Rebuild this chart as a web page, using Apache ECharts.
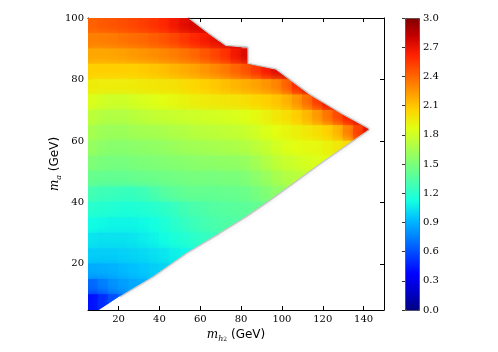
<!DOCTYPE html>
<html>
<head>
<meta charset="utf-8">
<script src="https://cdn.jsdelivr.net/npm/echarts@6/dist/echarts.min.js"></script>
<style>
    html, body { margin: 0; padding: 0; background: #fff; }
    #chart { width: 498px; height: 352px; }
</style>
</head>
<body>
<div id="chart"></div>
<script>
// tick labels
const xTicks = [20, 40, 60, 80, 100, 120, 140];
const yTicks = [20, 40, 60, 80, 100];
const cbTicks = [0, 0.3, 0.6, 0.9, 1.2, 1.5, 1.8, 2.1, 2.4, 2.7, 3.0];

// grid of cells, 5 GeV wide, first cell centred at m_h2 = 7.5
const cellX0 = 7.5;
const cellSize = 5;
const rowY = [97.5, 92.5, 87.5, 82.5, 77.5, 72.5, 67.5, 62.5, 57.5, 52.5, 47.5, 42.5, 37.5, 32.5, 27.5, 22.5, 17.5, 12.5, 7.5];

// values per row (m_a = row centre), read left to right
const z97 = [2.42, 2.44, 2.46, 2.48, 2.50, 2.53, 2.56, 2.60, 2.66, 2.72, 2.76, 2.78, 2.78];
const z92 = [2.32, 2.33, 2.34, 2.36, 2.38, 2.40, 2.43, 2.46, 2.50, 2.55, 2.60, 2.65, 2.70, 2.74, 2.76];
const z87 = [2.20, 2.20, 2.21, 2.22, 2.24, 2.26, 2.28, 2.30, 2.33, 2.36, 2.40, 2.45, 2.50, 2.56, 2.66, 2.74, 2.76, 2.76];
const z82 = [2.07, 2.07, 2.07, 2.07, 2.07, 2.08, 2.10, 2.12, 2.15, 2.18, 2.21, 2.25, 2.29, 2.34, 2.40, 2.46, 2.54, 2.64, 2.72, 2.76];
const z77 = [1.96, 1.95, 1.95, 1.95, 1.96, 1.97, 1.98, 1.99, 2.00, 2.02, 2.04, 2.07, 2.09, 2.12, 2.15, 2.18, 2.21, 2.25, 2.30, 2.40, 2.58, 2.70, 2.72];
const z72 = [1.85, 1.82, 1.80, 1.80, 1.82, 1.84, 1.86, 1.88, 1.90, 1.92, 1.94, 1.96, 1.97, 1.98, 1.99, 2.01, 2.04, 2.07, 2.10, 2.15, 2.24, 2.36, 2.52, 2.68, 2.72];
const z67 = [1.74, 1.71, 1.70, 1.70, 1.72, 1.74, 1.76, 1.77, 1.78, 1.79, 1.80, 1.81, 1.82, 1.83, 1.84, 1.86, 1.89, 1.93, 1.97, 2.01, 2.07, 2.14, 2.23, 2.35, 2.48, 2.62, 2.72, 2.75];
const z62 = [1.66, 1.63, 1.62, 1.62, 1.64, 1.65, 1.66, 1.67, 1.69, 1.70, 1.72, 1.73, 1.74, 1.75, 1.76, 1.78, 1.81, 1.85, 1.88, 1.91, 1.94, 1.97, 2.01, 2.06, 2.14, 2.30, 2.50, 2.70];
const z57 = [1.60, 1.57, 1.55, 1.55, 1.56, 1.57, 1.58, 1.59, 1.61, 1.63, 1.64, 1.65, 1.66, 1.67, 1.68, 1.70, 1.73, 1.77, 1.81, 1.85, 1.88, 1.89, 1.90, 1.93, 1.97, 2.02];
const z52 = [1.52, 1.50, 1.49, 1.49, 1.50, 1.51, 1.52, 1.53, 1.54, 1.55, 1.56, 1.57, 1.57, 1.58, 1.58, 1.60, 1.64, 1.69, 1.74, 1.78, 1.80, 1.83, 1.85, 1.86, 1.87];
const z47 = [1.43, 1.42, 1.42, 1.42, 1.43, 1.44, 1.45, 1.46, 1.47, 1.48, 1.49, 1.49, 1.49, 1.50, 1.50, 1.52, 1.56, 1.60, 1.65, 1.69, 1.72, 1.75, 1.77];
const z42 = [1.30, 1.28, 1.27, 1.26, 1.26, 1.28, 1.32, 1.36, 1.39, 1.41, 1.42, 1.42, 1.42, 1.43, 1.43, 1.45, 1.48, 1.52, 1.56, 1.60];
const z37 = [1.20, 1.19, 1.18, 1.17, 1.17, 1.18, 1.20, 1.22, 1.25, 1.29, 1.32, 1.34, 1.36, 1.37, 1.38, 1.39, 1.41, 1.43];
const z32 = [1.12, 1.11, 1.10, 1.10, 1.10, 1.11, 1.13, 1.16, 1.20, 1.24, 1.27, 1.30, 1.32, 1.34, 1.35, 1.36];
const z27 = [1.05, 1.04, 1.04, 1.04, 1.05, 1.07, 1.09, 1.12, 1.15, 1.18, 1.21, 1.24, 1.26];
const z22 = [0.98, 0.98, 0.98, 0.99, 1.00, 1.01, 1.03, 1.05, 1.08, 1.10, 1.12];
const z17 = [0.88, 0.89, 0.90, 0.92, 0.94, 0.96, 0.98, 1.00, 1.02];
const z12 = [0.68, 0.74, 0.80, 0.84, 0.87, 0.89];
const z7 = [0.42, 0.50, 0.60, 0.68];
const rows = [z97, z92, z87, z82, z77, z72, z67, z62, z57, z52, z47, z42, z37, z32, z27, z22, z17, z12, z7];

// edge of the filled region [m_h2, m_a]
const lowerEdge = [[5, 2.7], [20.4, 9.5], [36.7, 16], [53, 23.6], [69.2, 30.1], [82.2, 35.5], [93.6, 40.7], [120, 53.5], [142.5, 63.8]];
const upperEdge = [[129.4, 68.6], [113.1, 75.1], [96.9, 83.2], [83, 85], [83, 90.3], [72.5, 90.8], [64.3, 94.6], [53.8, 100], [5, 100]];

const jet = ['#000080', '#0000c8', '#0000ff', '#0040ff', '#0080ff', '#00bfff', '#14ffe2', '#48ffaf', '#7bff7b',
    '#afff48', '#e2ff14', '#ffd200', '#ff9700', '#ff5c00', '#ff2100', '#c80000', '#800000'];

let cells = [];
rows.forEach(function (row, r) {
    row.forEach(function (v, k) {
        cells.push([cellX0 + k * cellSize, rowY[r], v]);
    });
});
const edgeLine = lowerEdge.slice(1).concat(upperEdge.slice(0, -1));

const chart = echarts.init(document.getElementById('chart'));
const serif = 'DejaVu Serif';
const black = '#000';

function frameAxis(pos, min, max, ticks, showLabel) {
    return {
        type: 'value',
        position: pos,
        min: min,
        max: max,
        axisLine: { show: true, onZero: false, lineStyle: { color: black, width: 1 } },
        axisTick: { show: true, inside: true, length: 4, customValues: ticks, lineStyle: { color: black } },
        axisLabel: { show: showLabel, customValues: ticks, fontFamily: serif, fontSize: 10, color: black, margin: 4 },
        splitLine: { show: false }
    };
}

let xBottom = frameAxis('bottom', 5, 150, xTicks, true);
xBottom.name = '{m|m}{s|h}{ss|2}{t| (GeV)}';
xBottom.nameLocation = 'middle';
xBottom.nameGap = 13;
xBottom.nameTextStyle = {
    rich: {
        m: { fontFamily: serif, fontStyle: 'italic', fontSize: 12, lineHeight: 16, color: black },
        s: { fontFamily: serif, fontStyle: 'italic', fontSize: 8, lineHeight: 10, verticalAlign: 'bottom', color: black },
        ss: { fontFamily: serif, fontSize: 6, lineHeight: 6, verticalAlign: 'bottom', color: black },
        t: { fontFamily: 'DejaVu Sans', fontSize: 12, lineHeight: 16, color: black }
    }
};

let yLeft = frameAxis('left', 5, 100, yTicks, true);
yLeft.name = '{m|m}{s|a}{t| (GeV)}';
yLeft.nameLocation = 'middle';
yLeft.nameGap = 25;
yLeft.nameMoveOverlap = false;
yLeft.nameTextStyle = {
    rich: {
        m: { fontFamily: serif, fontStyle: 'italic', fontSize: 12, lineHeight: 16, color: black },
        s: { fontFamily: serif, fontStyle: 'italic', fontSize: 8, lineHeight: 9, verticalAlign: 'bottom', color: black },
        t: { fontFamily: 'DejaVu Sans', fontSize: 12, lineHeight: 16, color: black }
    }
};

let xTop = frameAxis('top', 5, 150, xTicks, false);
let yRight = frameAxis('right', 5, 100, yTicks, false);

let option = {
    animation: false,
    backgroundColor: '#fff',
    grid: [
        { left: 88, top: 18, width: 296, height: 292 },
        { left: 405, top: 18, width: 14, height: 292 }
    ],
    xAxis: [
        xBottom,
        xTop,
        { type: 'value', gridIndex: 1, show: false, min: 0, max: 1 }
    ],
    yAxis: [
        yLeft,
        yRight,
        {
            type: 'value',
            gridIndex: 1,
            position: 'right',
            min: 0,
            max: 3,
            axisLine: { show: false },
            axisTick: { show: true, inside: true, length: 3, customValues: cbTicks, lineStyle: { color: '#333' } },
            axisLabel: {
                customValues: cbTicks,
                fontFamily: serif, fontSize: 10, color: black, margin: 4,
                formatter: function (v) { return v.toFixed(1); }
            },
            splitLine: { show: false }
        }
    ],
    visualMap: {
        type: 'continuous',
        seriesIndex: 0,
        dimension: 2,
        min: 0,
        max: 3,
        calculable: false,
        realtime: false,
        hoverLink: false,
        left: 405,
        top: 18,
        padding: 0,
        itemWidth: 14,
        itemHeight: 292,
        borderColor: '#444',
        borderWidth: 1,
        text: null,
        inRange: { color: jet }
    },
    series: [
        {
            type: 'custom',
            xAxisIndex: 0,
            yAxisIndex: 0,
            clip: true,
            z: 3,
            encode: { x: 0, y: 1 },
            data: cells,
            renderItem: function (params, api) {
                const x = api.value(0);
                const y = api.value(1);
                const p0 = api.coord([x - cellSize / 2, y + cellSize / 2]);
                const p1 = api.coord([x + cellSize / 2, y - cellSize / 2]);
                const pts = lowerEdge.concat(upperEdge).map(function (p) { return api.coord(p); });
                const c = api.visual('color');
                return {
                    type: 'rect',
                    shape: { x: p0[0] - 0.3, y: p0[1] - 0.3, width: p1[0] - p0[0] + 0.6, height: p1[1] - p0[1] + 0.6 },
                    style: { fill: c, shadowBlur: 9, shadowColor: c },
                    clipPath: { type: 'polygon', shape: { points: pts } }
                };
            }
        },
        {
            // soft grey fringe round the filled region
            type: 'line',
            xAxisIndex: 0,
            yAxisIndex: 0,
            z: 1,
            data: edgeLine,
            symbol: 'none',
            silent: true,
            lineStyle: { color: 'rgba(120,120,120,0.35)', width: 3, shadowBlur: 4, shadowColor: 'rgba(120,120,120,0.6)' }
        }
    ]
};
chart.setOption(option);
</script>
</body>
</html>
